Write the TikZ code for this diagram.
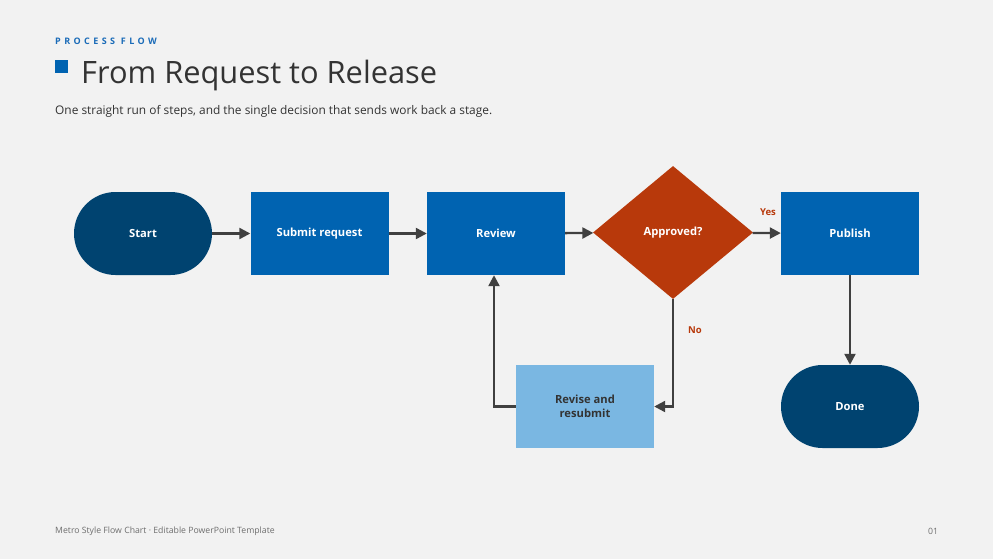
\documentclass[tikz,border=0pt]{standalone}
\usepackage{fontspec}
\setmainfont{Open Sans}
\usetikzlibrary{shapes.geometric,arrows.meta}
\definecolor{bg}{HTML}{F2F2F2}
\definecolor{navy}{HTML}{004370}
\definecolor{mblue}{HTML}{0063B1}
\definecolor{lblue}{HTML}{7AB7E2}
\definecolor{rust}{HTML}{B8390B}
\definecolor{arrowc}{HTML}{404040}
\definecolor{txt}{HTML}{333333}
\definecolor{foot}{HTML}{6E6E6E}
\definecolor{kick}{HTML}{1A6BB8}
\newfontfamily\kickfont[LetterSpace=38]{Open Sans}
\tikzset{
  x=1pt,y=-1pt,
  stepbox/.style={rectangle,fill=mblue,minimum width=138pt,minimum height=83pt,inner sep=0pt,text=white,font=\fontsize{11.2}{13}\selectfont\bfseries},
  terminal/.style={rectangle,rounded corners=41.5pt,fill=navy,minimum width=138pt,minimum height=83pt,inner sep=0pt,text=white,font=\fontsize{11.2}{13}\selectfont\bfseries},
  decision/.style={diamond,fill=rust,minimum width=160pt,minimum height=133pt,inner sep=0pt,aspect=1.2,text=white,font=\fontsize{11.2}{13}\selectfont\bfseries},
  conn/.style={draw=arrowc,line width=2.3pt,-{Triangle[length=11pt,width=11pt]}},
  lbl/.style={text=rust,font=\fontsize{9.5}{11}\selectfont\bfseries,inner sep=0pt}
}
\begin{document}
\begin{tikzpicture}
\fill[bg] (0,0) rectangle (993,559);
\useasboundingbox (0,0) rectangle (993,559);
% header
\node[anchor=west,inner sep=0pt,text=kick,font=\kickfont\fontsize{9}{11}\selectfont\bfseries] (kicker) at (55,41) {PROCESS FLOW};
\fill[mblue] (55,60) rectangle (68,73);
\node[anchor=west,inner sep=0pt,text=txt,font=\fontsize{30.8}{36}\selectfont] (title) at (81,76) {From Request to Release};
\node[anchor=west,inner sep=0pt,text=txt,font=\fontsize{11.9}{13}\selectfont] (sub) at (55,111) {One straight run of steps, and the single decision that sends work back a stage.};
% nodes
\node[terminal] (start) at (143,233.5) {Start};
\node[stepbox] (submit) at (319.5,233.5) {Submit request};
\node[stepbox] (review) at (496,233.5) {Review};
\node[decision] (dec) at (673,232.5) {Approved?};
\node[stepbox] (publish) at (850,233.5) {Publish};
\node[terminal] (done) at (850,406.5) {Done};
\node[stepbox,fill=lblue,text=txt,align=center,font=\fontsize{11.2}{14.5}\selectfont\bfseries] (revise) at (585,406.5) {Revise and\\resubmit};
% connectors
\draw[conn] (start) -- (submit);
\draw[conn] (submit) -- (review);
\draw[conn] (review) -- (dec);
\draw[conn] (dec) -- (publish);
\draw[conn] (publish) -- (done);
\draw[conn] (dec.south) |- (revise.east);
\draw[conn] (revise.west) -| (review.south -| 494,0);
\node[lbl] (yes) at (768,212) {Yes};
\node[lbl] (no) at (695,330) {No};
% footer
\node[anchor=west,inner sep=0pt,text=foot,font=\fontsize{8.7}{10}\selectfont] (footl) at (55,531) {Metro Style Flow Chart · Editable PowerPoint Template};
\node[anchor=west,inner sep=0pt,text=foot,font=\fontsize{8.7}{10}\selectfont] (footr) at (928,531) {01};
\end{tikzpicture}
\end{document}
